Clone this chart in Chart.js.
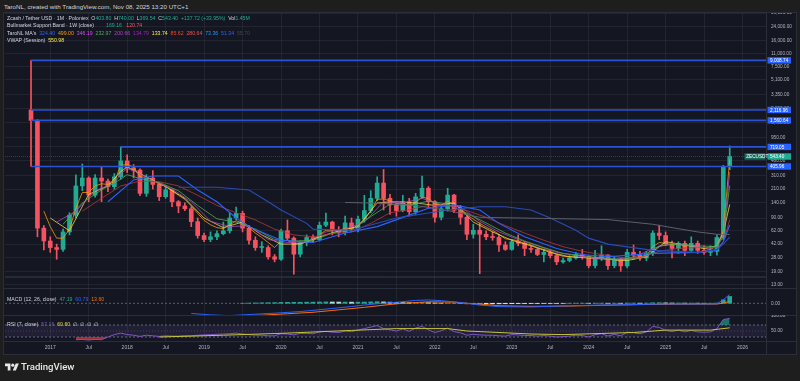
<!DOCTYPE html>
<html><head><meta charset="utf-8">
<script src="https://cdn.jsdelivr.net/npm/chart.js@4.4.1/dist/chart.umd.min.js"></script>
<style>
*{box-sizing:border-box}
html,body{margin:0;padding:0;width:800px;height:381px;overflow:hidden;background:#1e1e1e;font-family:"Liberation Sans",Arial,sans-serif}
.abs{position:absolute}
#panel{left:3px;top:12px;width:794px;height:343px;background:#141722;border:1px solid #2a2e39}
canvas{position:absolute;left:0}
.leg{position:absolute;left:7px;font-size:5.2px;line-height:6px;color:#d1d4dc;white-space:nowrap}
.sep{position:absolute;background:#2a2e39}
</style></head><body>
<div class="abs" style="left:4px;top:2.5px;font-size:6.2px;color:#d1d4dc;white-space:nowrap">TaroNL, created with TradingView.com, Nov 08, 2025 13:20 UTC+1</div>
<div id="panel" class="abs"></div>
<div class="sep" style="left:4px;top:288px;width:792px;height:1px"></div>
<div class="sep" style="left:4px;top:315px;width:792px;height:1px"></div>
<div class="sep" style="left:4px;top:341px;width:792px;height:1px"></div>
<div class="sep" style="left:766px;top:13px;width:1px;height:341px"></div>
<canvas id="cMain" width="800" height="275" style="top:13px"></canvas>
<canvas id="cMacd" width="800" height="27" style="top:288px"></canvas>
<canvas id="cRsi" width="800" height="39" style="top:315px"></canvas>

<div class="leg" style="top:14.7px">Zcash / Tether USD · 1M · Poloniex&nbsp; O<span style="color:#22ab94">403.80</span>&nbsp; H<span style="color:#22ab94">740.00</span>&nbsp; L<span style="color:#22ab94">369.54</span>&nbsp; C<span style="color:#22ab94">543.40</span>&nbsp; <span style="color:#22ab94">+137.72 (+33.95%)</span>&nbsp; Vol<span style="color:#22ab94">1.45M</span></div>
<div class="leg" style="top:22.2px">Bullmarket Support Band · 1W (close)<span style="margin-left:12px;color:#22ab94">169.16</span>&nbsp;&nbsp; <span style="color:#f7525f">120.74</span></div>
<div class="leg" style="top:29.7px">TaroNL MA's&nbsp; <span style="color:#2962ff">324.40</span>&nbsp; <span style="color:#ff9800">499.00</span>&nbsp; <span style="color:#e040fb">346.19</span>&nbsp; <span style="color:#4caf50">232.97</span>&nbsp; <span style="color:#ab47bc">200.66</span>&nbsp; <span style="color:#9c27b0">134.79</span>&nbsp; <span style="color:#ffeb3b">133.74</span>&nbsp; <span style="color:#f44336">85.62</span>&nbsp; <span style="color:#ef5350">280.64</span>&nbsp; <span style="color:#2196f3">73.36</span>&nbsp; <span style="color:#2962ff">51.34</span>&nbsp; <span style="color:#434651">55.70</span></div>
<div class="leg" style="top:37.2px">VWAP (Session)&nbsp; <span style="color:#ffeb3b">550.98</span></div>
<div class="leg" style="top:296.3px">MACD (12, 26, close)&nbsp; <span style="color:#22ab94">47.19</span>&nbsp; <span style="color:#2962ff">60.79</span>&nbsp; <span style="color:#ff6d00">13.60</span></div>
<div class="leg" style="top:320.7px">RSI (7, close)&nbsp; <span style="color:#7e57c2">57.16</span>&nbsp; <span style="color:#e8d44d">60.60</span>&nbsp; ∅&nbsp; ∅&nbsp; ∅&nbsp; ∅</div>

<svg class="abs" style="left:5px;top:362px" width="14" height="11" viewBox="0 0 36 28"><path d="M14 22H7V11H0V4h14v18z" fill="#e8e8e8"/><circle cx="20" cy="8" r="4" fill="#e8e8e8"/><path d="M28 22h-8l7.5-18h8L28 22z" fill="#e8e8e8"/></svg>
<div class="abs" style="left:21px;top:361px;font-family:Roboto,'Liberation Sans',sans-serif;font-size:9.6px;font-weight:500;color:#e8e8e8">TradingView</div>

<script>
// ---------- DATA ----------
const open  = [2116.96,1560.64,67,46,38,36,60,98,230,290,176,290,265,225,300,477,390,365,185,290,240,168,205,145,128,118,81,54,48,52,57,62,90,103,67,47,38,38,29,27,62,50,31.3,44,51,48,73,80,63,59,78,65,87,112,160,250,160,132,112,145,108,167,215,145,92,118,176,113,92,56,63,56,52,51,41,36,45,43,37,36,31,33,30,25,26,28,31,29.5,22.4,28.6,30.5,22.4,27,22.2,33,30.5,28,32,58,54,42,37,43,35,43,35,33,34,51,403.8];
const high  = [9008.74,1600,72,52,42,65,105,317,437,300,320,406,280,330,719.05,570,430,380,320,360,250,230,210,150,140,125,90,58,60,62,80,105,124,110,72,52,45,40,31,65,85,52,46,55,55,80,104,82,70,95,90,95,175,200,300,372,180,140,175,160,185,306,225,150,125,215,180,130,95,75,78,62,60,55,45,48,55,45,40,37,36,35,31,28,30,33,36,30,35,40,31,29,28,36,41,34,34,62,73,60,46,45,46,52,46,40,40,55,420,740];
const low   = [405.96,52,35.5,33,27,34,55,90,200,145,165,145,195,210,280,340,290,173,170,210,150,160,125,105,112,70,50,45,45,48,55,58,85,60,42,35,33,27,25,26,48,17.5,29,40,45,46,70,55,52,55,60,60,80,105,150,114,100,95,108,95,100,160,120,80,85,110,105,75,48,50,17.7,48,47,34,35,35,40,30,33,30,25,28,23,24,25,27,27,21,21,26,20,21,19,21,27,26,26,30,48,40,28,32,30,34,32,31,30,30.5,48,369.54];
const close = [1560.64,67,46,38,36,60,98,230,290,176,290,265,225,300,477,390,365,185,290,240,168,205,145,128,118,81,54,48,52,57,62,90,103,67,47,38,38,29,27,62,50,31.3,44,51,48,73,80,63,59,78,65,87,112,160,250,160,132,112,145,108,167,215,145,92,118,176,113,92,56,63,56,52,51,41,36,45,43,37,36,31,33,30,25,26,28,31,29.5,22.4,28.6,30.5,22.4,27,22.2,33,30.5,28,32,58,54,42,37,43,35,43,35,33,34,51,403.8,543.4];

// fast moving average (orange), one value per month
const _ = null;
const maOrange = [_,_,110,70,50,50,65,120,190,190,230,245,240,260,420,430,400,300,295,275,240,228,200,175,155,128,103,84,74,68,66,74,83,78,68,58,51,44,38,46,47,42,43,45,46,55,63,63,62,67,66,73,86,110,155,157,149,137,140,129,142,166,159,137,131,146,135,121,99,87,77,69,63,56,49,48,46,43,41,38,36,34,31,29.5,29,30,30,27.5,27.9,28.8,26.7,26.8,25.3,27.9,28.8,28.5,29.7,39,44,43,41,42,39.5,40.7,38.8,36.9,35.9,40,62,499];
// slower averages, read at selected months
const maYellowIdx = [3,6,9,12,14,15,18,21,24,27,30,33,36,39,42,45,48,51,54,57,60,63,66,69,72,75,78,81,84,87,90,93,96,99,102,105,107,108,109];
const maYellowVal = [90,62,180,230,350,400,300,225,160,90,68,80,55,42,42,52,62,70,140,145,140,130,140,80,60,47,40,33,29,28,27,26,29,45,41,37,40,58,133.74];
const maPurpleIdx = [4,7,10,13,14,15,16,19,22,25,28,31,34,37,40,43,46,49,52,55,58,61,64,67,70,73,76,79,82,85,88,91,94,97,100,103,106,107,108,109];
const maPurpleVal = [80,110,200,250,330,380,360,270,210,145,82,70,72,48,44,45,60,65,80,145,140,160,133,125,82,60,48,40,33,30,27.5,27,28.5,37,43,40,37,40,55,346.19];
const maGreenIdx = [5,8,11,14,15,17,20,23,26,29,32,35,38,41,44,47,50,53,56,59,62,65,68,71,74,77,80,83,86,89,92,95,98,101,104,107,108,109];
const maGreenVal = [75,140,205,280,320,285,255,200,130,88,80,65,48,46,47,58,64,94,135,130,148,135,103,78,58,46,38,32,30,28,27,28,40,42,40,39,52,232.97];
const maRedIdx = [8,11,14,17,20,23,26,29,32,35,38,41,44,47,50,53,56,59,62,65,68,71,74,77,80,83,86,89,92,95,98,101,104,107,108,109];
const maRedVal = [110,160,230,265,260,230,175,130,105,85,65,55,52,57,60,77,105,115,130,130,112,92,72,58,47,39,34,31,28.5,28,34,37,38,38,45,85.62];
const maBlueAIdx = [12,16,19,23,26,29,32,34,39,44,49,54,59,62,66,70,73,77,82,86,90,97,104,107,108,109];
const maBlueAVal = [145,274,307,307,204,145,90,70,47,44,58,70,98,120,132,114,77,52,37,31,29,32,33,35,45,73.36];
const maBlueBIdx = [23,29,34,37,39,43,44,50,57,65,70,74,78,81,85,87,90,97,104,107,108,109];
const maBlueBVal = [221,221,204,145,114,77,65,63,90,114,125,125,114,90,63,50,42,35,33,36,42,51.34];
const maGrayIdx = [49,55,60,65,70,80,90,97,100,104,107,109];
const maGrayVal = [142,138,130,112,92,89,86,75,68,60,56,55.7];

// drawn levels (rays from a candle to the right edge)
const levels = [9008.74, 2116.96, 1560.64, 719.05, 405.96];
const levelStart = [0, 0, 0, 14, 0];
const lastPrice = 543.40;
const symbol = 'ZECUSDT';
const supportLine = 16.05;

// MACD
const macdIdx = [25,28,31,35,38,42,46,50,52,54,57,60,62,64,66,68,70,73,78,84,89,95,99,104,107,108,109];
const macdVal = [-70,-80,-85,-75,-68,-57,-40,-22,-12,-3,7,20,23,18,10,0,-12,-23,-25,-17,-12,-8,-5,-5,-4,25,60.79];
const signalIdx = [33,36,40,44,48,52,56,58,62,66,68,70,73,78,84,89,95,100,105,107,108,109];
const signalVal = [-86,-82,-72,-62,-45,-28,-8,0,10,8,0,-6,-17,-21,-19,-14,-9,-6,-5,-5,1,13.6];
const histStart = 33;
const macdHist = [0.5,1.5,2.5,3.5,4,4.5,6,6.5,6.5,7,7.5,8,9,9.5,9,8.5,8.5,8,8,8.5,9.5,11,9.5,8,6.5,5.5,4,4.5,5.5,4.5,2,1,1.5,-0.5,-2,-4,-4.5,-5,-4.5,-4,-3.5,-3,-2.5,-2,-2,-1.5,-1.5,-1,-1,-1,-0.5,0.5,1,1,0.5,1,1,0.5,1,0.5,1.5,1.5,1,1.5,3.5,4,3,2,2,1.5,1.5,1,0.5,0.5,1.5,24,47.19];

// RSI
const rsiStart = 7;
const rsi = [21,22,20,22,21,30,38,43,38,36,32,36,34,32,34,33,33,34,34,36,37,38,39,40,41,43,40,38,36,36,34,34,41,40,37,42,42,41,47,49,46,45,50,48,53,58,63,68,58,54,50,57,49,60,65,54,45,51,60,48,44,36,39,37,36,36,34,33,38,37,35,35,33,35,33,30,31,33,36,35,30,38,41,33,39,34,46,44,41,47,65,62,52,48,53,47,52,47,46,47,58,88,92];
const rsiMaIdx = [20,30,40,50,57,65,68,78,83,94,99,106,109];
const rsiMaVal = [30,36,43,52,58,58,50,40,38,45,53,53,60.6];
const rsiUpper = 70, rsiMid = 50, rsiLower = 30;

// axes
const priceTicks = [13,19,28,42,62,90,140,210,310,480,720,950,1450,2200,3350,5100,7500,11000,16000,24000,36000];
const priceMin = 11.65, priceMax = 36000;
const macdMin = -80.7, macdMax = 105.5, macdTicks = [0];
const rsiMin = 16.7, rsiMax = 103.3, rsiTicks = [50, 100];
const timeTickIdx = [3,9,15,21,27,33,39,45,51,57,63,69,75,81,87,93,99,105,111];
const timeTickLabels = ['2017','Jul','2018','Jul','2019','Jul','2020','Jul','2021','Jul','2022','Jul','2023','Jul','2024','Jul','2025','Jul','2026'];
const xMin = -4.06, xMax = 114.66;

// ---------- CHARTS ----------
const FONT = '"Liberation Sans", Arial, sans-serif';
const GRID = 'rgba(54,58,69,0.40)';
const AXIS_TXT = '#b2b5be';
const GREEN = '#22ab94', RED = '#f7525f';
const fmt = v => Number(v).toLocaleString('en-US',{minimumFractionDigits:2, maximumFractionDigits:2});
const pts = (arr, start=0) => arr.map((v,i)=>({x:start+i, y:v})).filter(p=>p.y!=null);
const sp = (idx, val) => idx.map((x,k)=>({x, y:val[k]}));
const hline = (v, from=xMin) => [{x:from, y:v}, {x:xMax, y:v}];

const xAxis = (showLabels) => ({
  type:'linear', min:xMin, max:xMax, offset:false,
  afterBuildTicks: s => { s.ticks = timeTickIdx.map(v=>({value:v})); },
  afterFit: s => { s.height = showLabels ? 13 : 0; s.paddingLeft = 0; s.paddingRight = 0; },
  ticks:{display:showLabels, autoSkip:false, maxRotation:0, color:AXIS_TXT, font:{size:5, family:FONT}, padding:4,
         callback:(v, idx) => timeTickLabels[idx]},
  grid:{color:GRID, drawTicks:false, offset:false},
  border:{display:false}
});
const yAxis = (type, min, max, ticks, showGrid) => ({
  type, position:'right', min, max,
  afterBuildTicks: s => { s.ticks = ticks.map(v=>({value:v})); },
  afterFit: s => { s.width = 34; s.paddingTop = 0; s.paddingBottom = 0; },
  ticks:{color:AXIS_TXT, font:{size:4.7, family:FONT}, padding:5, callback: v => fmt(v)},
  grid:{display:showGrid, color:GRID, drawTicks:false},
  border:{display:false}
});
const baseOpts = (x, y, padLeft=5) => ({
  responsive:false, animation:false, events:[], devicePixelRatio:1,
  layout:{padding:{left:padLeft, right:0, top:0, bottom:0}},
  plugins:{legend:{display:false}, tooltip:{enabled:false}},
  scales:{x, y}
});
const line = (data, color, extra={}) => Object.assign({type:'line', data, borderColor:color, borderWidth:1, pointRadius:0, tension:0, fill:false, order:2}, extra);

const candleColors = open.map((o,i)=> close[i] >= o ? GREEN : RED);

const priceLabels = {
  id:'priceLabels',
  afterDraw(chart){
    const {ctx, chartArea:ca, scales:{y}} = chart;
    ctx.save();
    ctx.font = `4.7px ${FONT}`;
    ctx.textBaseline = 'middle';
    ctx.textAlign = 'left';
    levels.forEach(v => {
      const py = y.getPixelForValue(v);
      ctx.fillStyle = '#2962ff';
      ctx.fillRect(ca.right+1.5, py-3.2, 23.5, 6.4);
      ctx.fillStyle = '#ffffff';
      ctx.fillText(fmt(v), ca.right+4, py+0.3);
    });
    const py = y.getPixelForValue(lastPrice);
    ctx.fillStyle = '#17705f'; ctx.fillRect(ca.right-21.5, py-3.2, 21, 6.4);
    ctx.fillStyle = GREEN; ctx.fillRect(ca.right+1.5, py-3.2, 23.5, 6.4);
    ctx.fillStyle = '#ffffff';
    ctx.fillText(symbol, ca.right-19.8, py+0.3);
    ctx.fillText(fmt(lastPrice), ca.right+4, py+0.3);
    ctx.restore();
  }
};

const mainSets = [];
levels.forEach((v,k) => mainSets.push(line(hline(v, levelStart[k]), '#2b52d4', {borderWidth:1.6, order:0})));
mainSets.push(line(hline(lastPrice), 'rgba(34,171,148,0.35)', {borderDash:[1,1], order:6}));
mainSets.push(line(hline(supportLine), '#3b3f4a', {order:6}));
mainSets.push(line(sp(maGrayIdx, maGrayVal), '#5d606b'));
mainSets.push(line(sp(maBlueBIdx, maBlueBVal), '#2a4bb5', {borderWidth:1.1}));
mainSets.push(line(sp(maBlueAIdx, maBlueAVal), '#2962ff', {borderWidth:1.1}));
mainSets.push(line(sp(maRedIdx, maRedVal), '#b23a3a', {borderWidth:0.8}));
mainSets.push(line(sp(maGreenIdx, maGreenVal), '#4caf50', {borderWidth:0.8}));
mainSets.push(line(sp(maPurpleIdx, maPurpleVal), '#ab47bc', {borderWidth:0.8}));
mainSets.push(line(sp(maYellowIdx, maYellowVal), '#e6d84a', {borderWidth:0.8}));
mainSets.push(line(pts(maOrange), '#ff9800', {borderWidth:0.8}));
mainSets.push({type:'bar', data: low.map((l,i)=>({x:i, y:[l, high[i]]})), backgroundColor:candleColors, barThickness:1, grouped:false, order:4});
mainSets.push({type:'bar', data: open.map((o,i)=>({x:i, y:[o, close[i]]})), backgroundColor:candleColors, barThickness:4, minBarLength:1, grouped:false, order:3});

new Chart(document.getElementById('cMain'), {
  type:'bar', data:{datasets:mainSets},
  options: baseOpts(xAxis(false), yAxis('logarithmic', priceMin, priceMax, priceTicks, true)),
  plugins:[priceLabels]
});

const histPts = pts(macdHist, histStart);
const histColors = histPts.map((p,k) => {
  const prev = k ? histPts[k-1].y : 0;
  return p.y >= 0 ? (p.y >= prev ? '#26a69a' : '#b2dfdb') : (p.y < prev ? '#ff5252' : '#ffcdd2');
});
new Chart(document.getElementById('cMacd'), {
  type:'bar',
  data:{datasets:[
    line(hline(0), '#5d606b', {borderDash:[2,2], order:5}),
    {type:'bar', data:histPts, backgroundColor:histColors, barThickness:4, grouped:false, order:3},
    line(sp(macdIdx, macdVal), '#2962ff', {order:1}),
    line(sp(signalIdx, signalVal), '#ff6d00', {order:1})
  ]},
  options: baseOpts(xAxis(false), yAxis('linear', macdMin, macdMax, macdTicks, false))
});

new Chart(document.getElementById('cRsi'), {
  type:'line',
  data:{datasets:[
    line(hline(rsiUpper), '#787b86', {borderDash:[2,2], borderWidth:0.8, fill:{target:{value:rsiLower}}, backgroundColor:'rgba(126,87,194,0.12)', order:6}),
    line(hline(rsiLower), '#787b86', {borderDash:[2,2], borderWidth:0.8, order:6}),
    line(hline(rsiMid), 'rgba(120,123,134,0.5)', {borderDash:[1,2], borderWidth:0.8, order:6}),
    line(pts(rsi, rsiStart), 'rgba(0,0,0,0)', {borderWidth:0, fill:{target:{value:rsiLower}, above:'rgba(0,0,0,0)', below:'rgba(242,54,69,0.65)'}, order:4}),
    line(pts(rsi, rsiStart), '#7e57c2', {fill:{target:{value:rsiUpper}, above:'rgba(34,171,148,0.6)', below:'rgba(0,0,0,0)'}, order:2}),
    line(sp(rsiMaIdx, rsiMaVal), '#c9c43a', {order:1})
  ]},
  options: baseOpts(xAxis(true), yAxis('linear', rsiMin, rsiMax, rsiTicks, false))
});
</script>
</body></html>
